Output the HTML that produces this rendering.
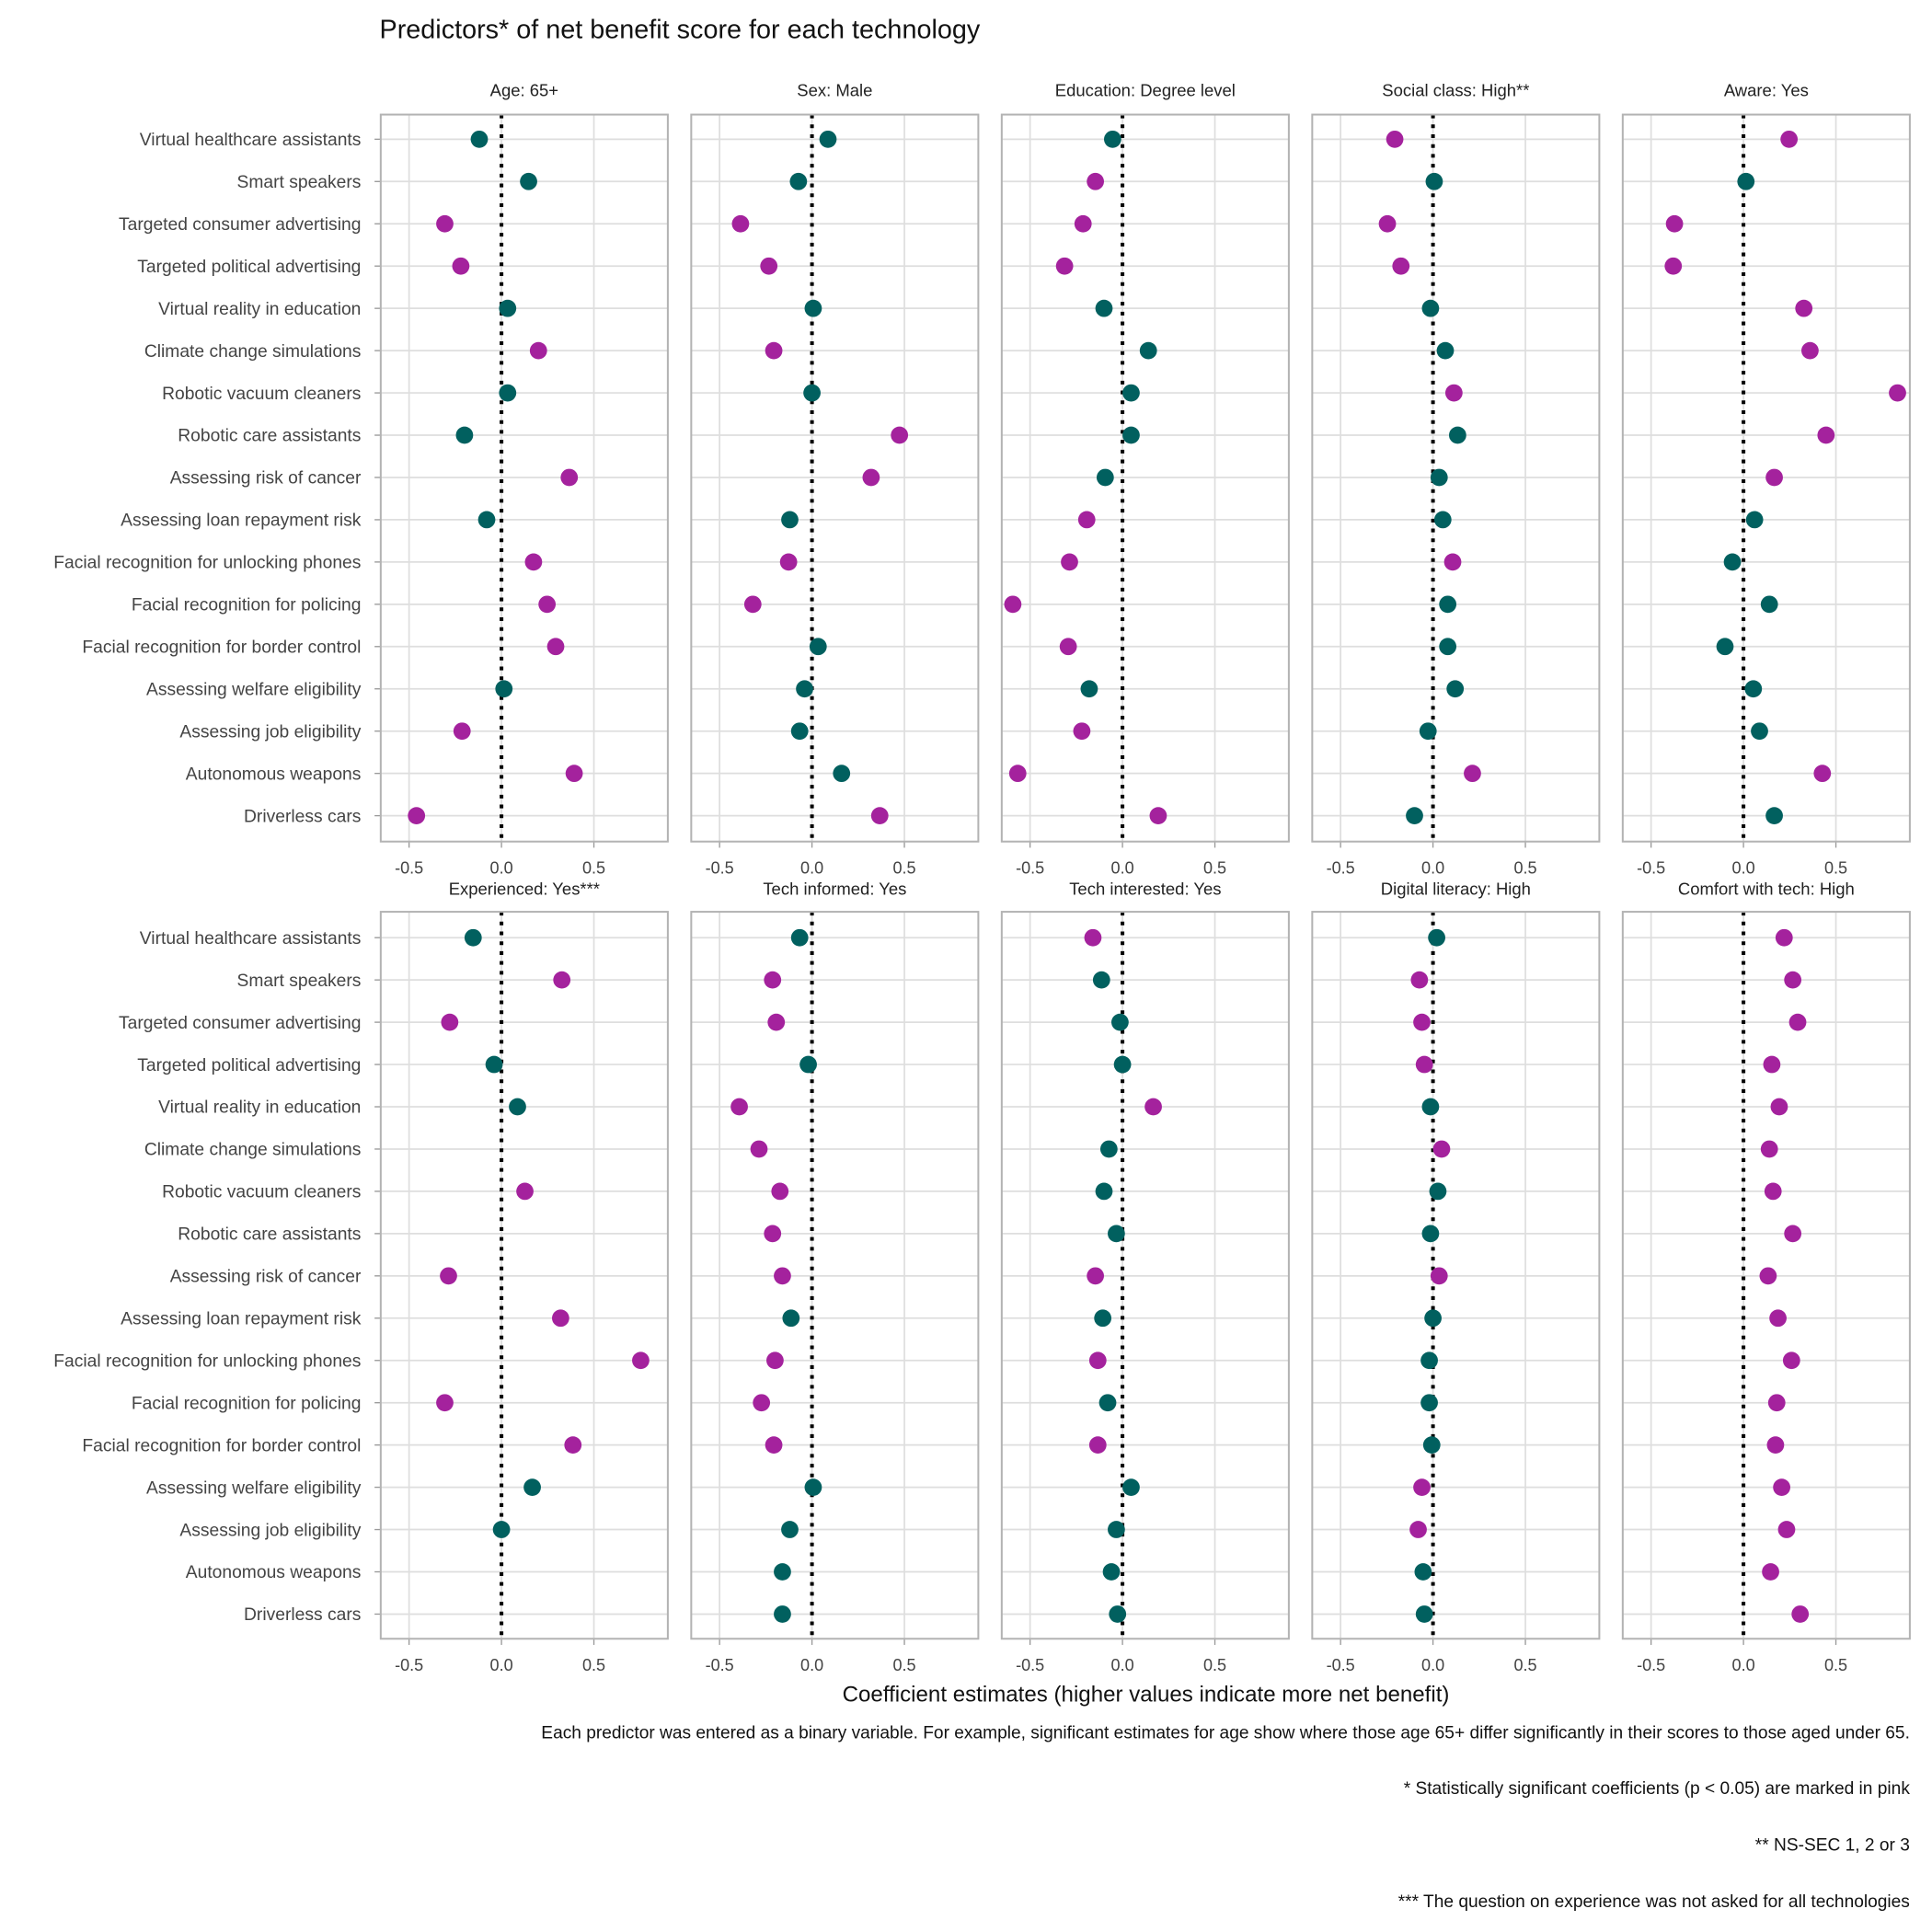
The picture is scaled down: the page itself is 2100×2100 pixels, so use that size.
<!DOCTYPE html>
<html><head><meta charset="utf-8"><style>html,body{margin:0;padding:0;background:#fff}svg{display:block}</style></head>
<body>
<svg id="s" width="2100" height="2100" viewBox="0 0 1568 1568" xmlns="http://www.w3.org/2000/svg" font-family="Liberation Sans, sans-serif">
<rect width="1568" height="1568" fill="#fff"/>
<text x="308" y="31" font-size="21.5" fill="#111">Predictors* of net benefit score for each technology</text>
<text x="930" y="1381" font-size="18" text-anchor="middle" fill="#111">Coefficient estimates (higher values indicate more net benefit)</text>
<g font-size="14.3" fill="#111" text-anchor="end">
<text x="1550" y="1411">Each predictor was entered as a binary variable. For example, significant estimates for age show where those age 65+ differ significantly in their scores to those aged under 65.</text>
<text x="1550" y="1456">* Statistically significant coefficients (p &lt; 0.05) are marked in pink</text>
<text x="1550" y="1502">** NS-SEC 1, 2 or 3</text>
<text x="1550" y="1548">*** The question on experience was not asked for all technologies</text>
</g>
</svg>
<script>
const labels=["Virtual healthcare assistants","Smart speakers","Targeted consumer advertising","Targeted political advertising","Virtual reality in education","Climate change simulations","Robotic vacuum cleaners","Robotic care assistants","Assessing risk of cancer","Assessing loan repayment risk","Facial recognition for unlocking phones","Facial recognition for policing","Facial recognition for border control","Assessing welfare eligibility","Assessing job eligibility","Autonomous weapons","Driverless cars"];
const titles=[["Age:  65+","Sex: Male","Education: Degree level","Social class: High**","Aware: Yes"],["Experienced: Yes***","Tech informed: Yes","Tech interested: Yes","Digital literacy: High","Comfort with tech: High"]];
const data=[[
"389t 429t 361p 374p 412t 437p 412t 377t 462p 395t 433p 444p 451p 409t 375p 466p 338p",
"672t 648t 601p 624p 660t 628p 659t 730p 707p 641t 640p 611p 664t 653t 649t 683t 714p",
"903t 889p 879p 864p 896t 932t 918t 918t 897t 882p 868p 822p 867p 884t 878p 826p 940p",
"1132p 1164t 1126p 1137p 1161t 1173t 1180p 1183t 1168t 1171t 1179p 1175t 1175t 1181t 1159t 1195p 1148t",
"1452p 1417t 1359p 1358p 1464p 1469p 1540p 1482p 1440p 1424t 1406t 1436t 1400t 1423t 1428t 1479p 1440t"],[
"384t 456p 365p 401t 420t - 426p - 364p 455p 520p 361p 465p 432t 407t - -",
"649t 627p 630p 656t 600p 616p 633p 627p 635p 642t 629p 618p 628p 660t 641t 635t 635t",
"887p 894t 909t 911t 936p 900t 896t 906t 889p 895t 891p 899t 891p 918t 906t 902t 907t",
"1166t 1152p 1154p 1156p 1161t 1170p 1167t 1161t 1168p 1163t 1160t 1160t 1162t 1154p 1151p 1155t 1156t",
"1448p 1455p 1459p 1438p 1444p 1436p 1439p 1455p 1435p 1443p 1454p 1442p 1441p 1446p 1450p 1437p 1461p"]];
const s=document.getElementById('s');let h='';
const lefts=[309,561,813,1065,1317],W=233;
[[93,683,113,73],[740,1330,761,721]].forEach((r,ri)=>{
 const [top,bot,y0,ty]=r;const step=(bot-top-41)/16;
 lefts.forEach((L,pi)=>{
  const z=L+98;
  h+=`<text x="${L+W/2}" y="${ty+5}" font-size="13.8" text-anchor="middle" fill="#222">${titles[ri][pi]}</text>`;
  [[-75,'-0.5'],[0,'0.0'],[75,'0.5']].forEach(([d,t])=>{h+=`<line x1="${z+d}" x2="${z+d}" y1="${top}" y2="${bot}" stroke="#dedede" stroke-width="1.3"/>`;
   h+=`<line x1="${z+d}" x2="${z+d}" y1="${bot}" y2="${bot+5}" stroke="#999" stroke-width="1"/>`;
   h+=`<text x="${z+d}" y="${bot+26}" font-size="13.5" text-anchor="middle" fill="#444">${t}</text>`;});
  for(let i=0;i<17;i++){const y=y0+i*step;h+=`<line x1="${L}" x2="${L+W}" y1="${y}" y2="${y}" stroke="#dedede" stroke-width="1.3"/>`;
   if(pi==0){h+=`<line x1="${L-5}" x2="${L}" y1="${y}" y2="${y}" stroke="#999"/><text x="${L-16}" y="${y+5}" font-size="14.4" text-anchor="end" fill="#444">${labels[i]}</text>`;}}
  h+=`<line x1="${z}" x2="${z}" y1="${top}" y2="${bot}" stroke="#000" stroke-width="3" stroke-dasharray="3,5"/>`;
  h+=`<rect x="${L}" y="${top}" width="${W}" height="${bot-top}" fill="none" stroke="#b3b3b3" stroke-width="1.5"/>`;
  data[ri][pi].split(' ').forEach((v,i)=>{if(v=='-')return;const x=parseFloat(v),c=v.endsWith('p')?'#a4229d':'#01605f';
   h+=`<circle cx="${x}" cy="${y0+i*step}" r="7" fill="${c}"/>`;});
 });
});
s.insertAdjacentHTML('beforeend',h);
</script>
</body></html>
